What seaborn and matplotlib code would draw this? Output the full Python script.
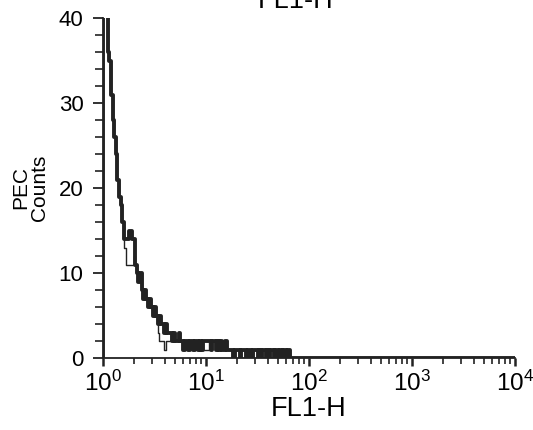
import numpy as np
import pandas as pd
import matplotlib
matplotlib.use("Agg")
import matplotlib.pyplot as plt
import seaborn as sns
from matplotlib.ticker import LogLocator, MultipleLocator, FixedLocator, LogFormatterSciNotation, NullFormatter

# ---- data (counts per channel, 256 log channels over 4 decades) ----
n_channels = 256
decades = 4
thick_counts = [55, 50, 44, 36, 35, 31, 28, 26, 24, 21,
                19, 18, 16, 14, 14, 14, 15, 15, 14, 14,
                11, 10, 9, 10, 8, 7, 8, 7, 6, 7,
                6, 5, 6, 5, 4, 5, 4, 4, 3, 4,
                3, 3, 3, 2, 3, 2, 2, 3, 2, 2,
                1, 2, 2, 1, 2, 2, 1, 2, 2, 1,
                2, 1, 2, 2, 2, 2, 2, 1, 2, 2,
                1, 2, 1, 2, 1, 1, 2, 1, 1, 1,
                1, 0, 1, 1, 1, 0, 1, 1, 1, 0,
                1, 1, 0, 1, 1, 1, 0, 1, 0, 1,
                1, 0, 1, 0, 1, 1, 0, 1, 1, 0,
                1, 0, 1, 1, 0, 1]
thin_counts = [55, 50, 44, 36, 35, 31, 28, 26, 24, 21,
               19, 18, 16, 13, 11, 11, 11, 11, 11, 12,
               11, 10, 9, 10, 8, 7, 8, 7, 6, 7,
               6, 5, 6, 5, 3, 2, 2, 2, 1, 2,
               2, 2, 3, 2, 3, 2, 2, 3, 2, 2,
               1, 2, 2, 1, 2, 2, 1, 2, 2, 1,
               2, 1, 1, 1, 1, 1, 2, 1, 2, 2,
               1, 2, 1, 2, 1, 1, 2, 1, 1, 1,
               1, 0, 1, 1, 1, 0, 1, 1, 1, 0,
               1, 1, 0, 1, 1, 1, 0, 1, 0, 1,
               1, 0, 1, 0, 1, 1, 0, 1, 1, 0,
               1, 0, 1, 0, 0, 1]
y_major_ticks = [0, 10, 20, 30, 40]
title_text = "FL1-H"
x_label = "FL1-H"
y_label = "PEC\nCounts"

# ---- style ----
sns.set_style("ticks")
plt.rcParams["font.family"] = ["Liberation Sans", "DejaVu Sans"]
plt.rcParams["mathtext.fontset"] = "custom"
plt.rcParams["mathtext.rm"] = "Liberation Sans"
plt.rcParams["mathtext.it"] = "Liberation Sans:italic"
plt.rcParams["mathtext.bf"] = "Liberation Sans:bold"

ink = "#222222"

edges = 10 ** (np.arange(n_channels + 1) * decades / n_channels)


def step_frame(counts):
    c = np.zeros(n_channels)
    c[:len(counts)] = counts
    x = np.concatenate([[edges[0]], edges])
    y = np.concatenate([[0.0], c, [c[-1]]])
    return pd.DataFrame({"x": x, "y": y})


fig = plt.figure(figsize=(5.33, 4.30), dpi=100)
ax = fig.add_axes([103 / 533, 1 - 358 / 430, (515 - 103) / 533, 340 / 430])

sns.lineplot(data=step_frame(thin_counts), x="x", y="y", estimator=None, sort=False,
             drawstyle="steps-post", color=ink, lw=1.0, ax=ax)
sns.lineplot(data=step_frame(thick_counts), x="x", y="y", estimator=None, sort=False,
             drawstyle="steps-post", color=ink, lw=2.8, ax=ax)

ax.set_xscale("log")
ax.set_xlim(1, 1e4)
ax.set_ylim(0, 40)

ax.yaxis.set_major_locator(FixedLocator(y_major_ticks))
ax.yaxis.set_minor_locator(MultipleLocator(2))
ax.xaxis.set_major_locator(LogLocator(base=10, numticks=10))
ax.xaxis.set_minor_locator(LogLocator(base=10, subs=np.arange(2, 10), numticks=20))
ax.xaxis.set_major_formatter(LogFormatterSciNotation())
ax.xaxis.set_minor_formatter(NullFormatter())

for s in ["top", "right"]:
    ax.spines[s].set_visible(False)
for s in ["left", "bottom"]:
    ax.spines[s].set_linewidth(1.3)
    ax.spines[s].set_color(ink)

ax.tick_params(axis="y", which="major", direction="out", length=7, width=1.3,
               color=ink, labelsize=16, pad=7, labelcolor="black")
ax.tick_params(axis="y", which="minor", direction="out", length=6, width=1.2, color=ink)
ax.tick_params(axis="x", which="major", direction="out", length=6, width=1.8,
               color=ink, labelsize=17.5, pad=3, labelcolor="black")
ax.tick_params(axis="x", which="minor", direction="out", length=4, width=1.2, color=ink)

ax.set_xlabel(x_label, fontsize=19.5, labelpad=0, color="black")
ax.set_ylabel(y_label, fontsize=15, labelpad=7, color="black", linespacing=0.95)
fig.text(296 / 533, 1 - 8 / 430, title_text, ha="center", va="baseline",
         fontsize=19.5, color="black")

fig.savefig("out.png", dpi=100)
